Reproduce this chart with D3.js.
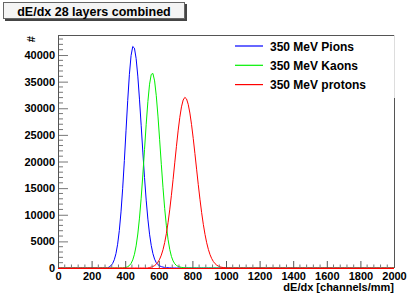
<!DOCTYPE html>
<html><head><meta charset="utf-8">
<script src="https://cdn.jsdelivr.net/npm/d3@7"></script>
<style>body{margin:0;background:#fff}svg{display:block}text{font-family:"Liberation Sans",Arial,sans-serif;font-weight:bold}</style>
</head><body><svg id="c" width="415" height="301"></svg>
<script>
const titleText = "dE/dx 28 layers combined";
const xTitle = "dE/dx [channels/mm]";
const yTitle = "#";
const binWidth = 10;
const seriesNames = ["350 MeV Pions", "350 MeV Kaons", "350 MeV protons"];
const seriesColors = ["#0000ff", "#00f000", "#ff0000"];
// first bin centre of each listed run; all other bins are 0
const pionStart = 305;
const pionValues = [212,433,838,1543,2694,4466,7039,10533,14962,20187,25871,31479,36375,39920,41604,
  41290,39357,36041,31713,26809,21772,16993,12739,9178,6351,4224,2698,1656,1000,620,400,260,170,110,70,45,28,16,9,4];
const kaonStart = 395;
const kaonValues = [55,117,238,463,861,1525,2578,4155,6384,9366,13102,17477,22241,26997,31258,34518,36359,
  36542,35144,32361,28533,24093,19475,15075,11177,7932,5391,3506,2186,1330,800,480,300,190,120,80,50,32,20,12,7,4,2];
const protonStart = 545;
const protonValues = [98,167,279,452,715,1100,1651,2415,3439,4772,6455,8503,10916,13653,16637,19752,22852,25755,28284,30262,31550,32046,
  31755,30749,29101,26916,24329,21493,18557,15657,12910,10407,8195,6311,4747,3487,2506,1760,1208,810,531,340,212,130,78,46,26,14,8,4];
const xTicks = [0,200,400,600,800,1000,1200,1400,1600,1800,2000];
const yTicks = [0,5000,10000,15000,20000,25000,30000,35000,40000];
const xDomain = [0, 2000];
const yDomain = [0, 43760];

const svg = d3.select("#c");
const L = 58, R = 394, T = 35, B = 268;
const x = d3.scaleLinear().domain(xDomain).range([L, R]);
const y = d3.scaleLinear().domain(yDomain).range([B, T]);

// full-range bins with zeros outside listed runs
function fullBins(start, vals) {
  const out = [];
  for (let c = binWidth / 2; c < xDomain[1]; c += binWidth) {
    const i = Math.round((c - start) / binWidth);
    out.push([c, (i >= 0 && i < vals.length) ? vals[i] : 0]);
  }
  out.unshift([xDomain[0], 0]); out.push([xDomain[1], 0]);
  return out;
}
const series = [fullBins(pionStart, pionValues), fullBins(kaonStart, kaonValues), fullBins(protonStart, protonValues)];

// title box
svg.append("rect").attr("x", 5).attr("y", 4).attr("width", 182).attr("height", 17).attr("fill", "#444");
svg.append("rect").attr("x", 3.5).attr("y", 2.5).attr("width", 181).attr("height", 16).attr("fill", "#f4f4f4").attr("stroke", "#666");
svg.append("text").attr("x", 94).attr("y", 15.5).attr("text-anchor", "middle").attr("font-size", 12.5).text(titleText);

svg.append("defs").append("clipPath").attr("id", "fr").append("rect")
  .attr("x", L).attr("y", T).attr("width", R - L).attr("height", B - T + 1);

const line = d3.line().x(d => x(d[0])).y(d => y(d[1]));
const g = svg.append("g").attr("clip-path", "url(#fr)");
series.forEach((s, i) => {
  g.append("path").attr("d", line(s)).attr("fill", "none").attr("stroke", seriesColors[i]).attr("stroke-width", 1);
});

// axes
const xAxis = d3.axisBottom(x).tickValues(xTicks).tickSize(-7).tickFormat(d3.format("d"));
const gx = svg.append("g").attr("transform", `translate(0,${B})`).call(xAxis);
gx.select(".domain").remove();
gx.selectAll(".tick line").attr("stroke", "#555");
gx.selectAll("text").attr("font-size", 11).attr("y", 4).attr("dy", "0.71em").attr("fill", "#000");
const xMinor = d3.range(xDomain[0], xDomain[1] + 1, 40).filter(v => !xTicks.includes(v));
svg.append("g").selectAll("line").data(xMinor).join("line")
  .attr("x1", d => x(d)).attr("x2", d => x(d)).attr("y1", B).attr("y2", B - 3.5).attr("stroke", "#777");

const yAxis = d3.axisLeft(y).tickValues(yTicks).tickSize(-10).tickFormat(d3.format("d"));
const gy = svg.append("g").attr("transform", `translate(${L},0)`).call(yAxis);
gy.select(".domain").remove();
gy.selectAll(".tick line").attr("stroke", "#777");
gy.selectAll("text").attr("font-size", 11).attr("x", -3).attr("fill", "#000");
const yMinor = d3.range(0, yDomain[1], 1000).filter(v => !yTicks.includes(v));
svg.append("g").selectAll("line").data(yMinor).join("line")
  .attr("x1", L).attr("x2", L + 5).attr("y1", d => y(d)).attr("y2", d => y(d)).attr("stroke", "#777");

// frame
svg.append("line").attr("x1", L).attr("x2", R).attr("y1", T + 0.5).attr("y2", T + 0.5).attr("stroke", "#555");
svg.append("line").attr("x1", L + 0.5).attr("x2", L + 0.5).attr("y1", T).attr("y2", B).attr("stroke", "#555");
svg.append("line").attr("x1", R + 0.5).attr("x2", R + 0.5).attr("y1", 98).attr("y2", B).attr("stroke", "#555");
svg.append("line").attr("x1", R + 0.5).attr("x2", R + 0.5).attr("y1", T).attr("y2", 98).attr("stroke", "#ddd");
svg.append("line").attr("x1", L).attr("x2", R).attr("y1", B + 0.5).attr("y2", B + 0.5).attr("stroke", seriesColors[2]);

// axis titles
svg.append("text").attr("x", R).attr("y", 291).attr("text-anchor", "end").attr("font-size", 11).text(xTitle);
svg.append("text").attr("transform", "translate(35,36) rotate(-90)").attr("text-anchor", "end").attr("font-size", 11).text(yTitle);

// legend
const leg = svg.append("g");
seriesNames.forEach((n, i) => {
  const yy = 46 + i * 19.3;
  leg.append("line").attr("x1", 235).attr("x2", 263).attr("y1", yy).attr("y2", yy).attr("stroke", seriesColors[i]).attr("stroke-width", 1.2);
  leg.append("text").attr("x", 270).attr("y", yy + 4.5).attr("font-size", 12).text(n);
});
</script></body></html>
